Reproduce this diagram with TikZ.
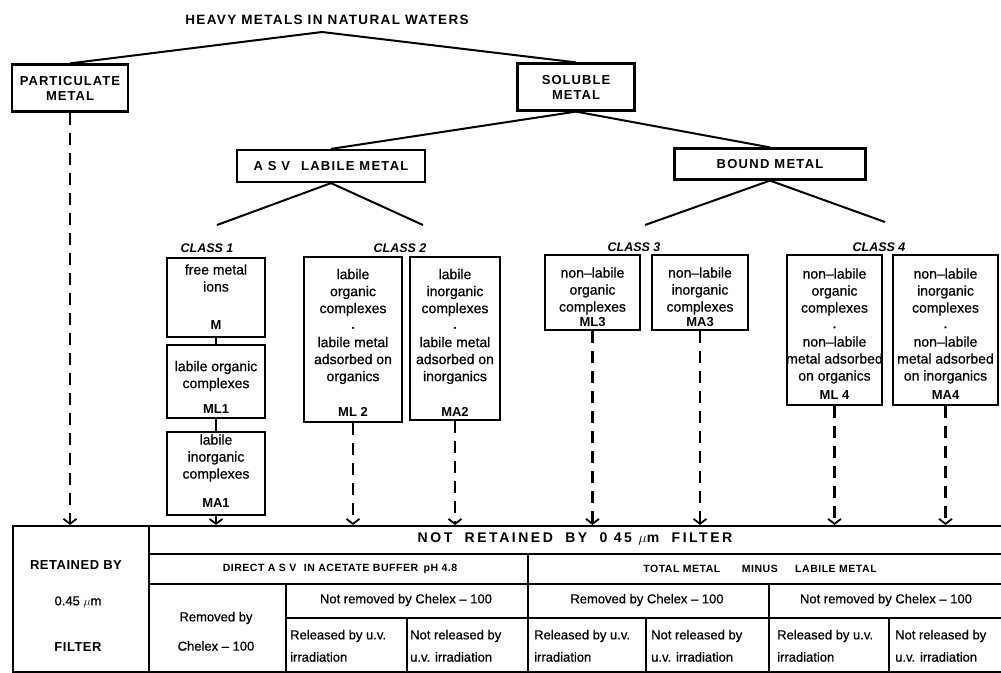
\documentclass[tikz,border=0pt]{standalone}
\usepackage{fontspec}
\setmainfont{Liberation Sans}
\usetikzlibrary{arrows.meta}
\newcommand{\capsfont}[2]{\fontsize{#1}{#1}\selectfont\bfseries\addfontfeatures{LetterSpace=#2}}
\newcommand{\medfont}[2]{\fontsize{#1}{#2}\selectfont\addfontfeatures{FakeBold=0.6}}
\newcommand{\bdot}{{\fontsize{7}{7}\selectfont •}}
\tikzset{
  box/.style={draw, line width=2.2pt, inner sep=0pt},
  cell/.style={draw, line width=2pt, inner sep=0pt, anchor=north west},
  lbl/.style={inner sep=0pt, align=center, font=\medfont{14}{17}},
  code/.style={inner sep=0pt, font=\fontsize{13}{13}\selectfont\bfseries},
  cls/.style={inner sep=0pt, font=\fontsize{12.5}{12.5}\selectfont\bfseries\itshape},
  ttl/.style={inner sep=0pt, align=center, font=\capsfont{13}{8}},
  tl/.style={inner sep=0pt, font=\medfont{13}{13}},
  tw/.style={inner sep=0pt, anchor=west, font=\medfont{13}{13}},
  sc/.style={inner sep=0pt, font=\capsfont{10.5}{5}},
  link/.style={line width=2pt},
  darr/.style={line width=2.2pt, dash pattern=on 12pt off 8pt, -{Straight Barb[length=5pt,width=13pt,line width=1.8pt]}},
}
\begin{document}
\begin{tikzpicture}[x=1pt,y=-1pt]
\useasboundingbox (0,0) rectangle (1001,672);
% title
\node[ttl, font=\capsfont{13.5}{10}] (title) at (327,20) {HEAVY METALS IN NATURAL WATERS};
\coordinate (apex) at (322,32);
% level 1
\node[box, minimum width=116, minimum height=47] (part) at (70,88) {};
\node[ttl] (partt) at (70,88) {PARTICULATE\\[2pt]METAL};
\node[box, minimum width=117, minimum height=47] (sol) at (576,87) {};
\node[ttl] (solt) at (576,87) {SOLUBLE\\[2pt]METAL};
\draw[link] (apex) -- (part.north);
\draw[link] (apex) -- (sol.north);
% level 2
\node[box, minimum width=188, minimum height=32] (asv) at (331,166) {};
\node[ttl, font=\capsfont{13}{10}] (asvt) at (331,166) {A S V\hspace{6pt} LABILE METAL};
\node[box, minimum width=191, minimum height=31] (bnd) at (770,164) {};
\node[ttl, font=\capsfont{13}{10}] (bndt) at (770,164) {BOUND METAL};
\draw[link] (sol.south) -- (asv.north);
\draw[link] (sol.south) -- (bnd.north);
\coordinate (c1) at (217,225);
\coordinate (c2) at (423,225);
\coordinate (c3) at (645,225);
\coordinate (c4) at (885,222);
\draw[link] (asv.south) -- (c1);
\draw[link] (asv.south) -- (c2);
\draw[link] (bnd.south) -- (c3);
\draw[link] (bnd.south) -- (c4);
% class labels
\node[cls] (cl1) at (207,248) {CLASS 1};
\node[cls] (cl2) at (400,248) {CLASS 2};
\node[cls] (cl3) at (634,247) {CLASS 3};
\node[cls] (cl4) at (879,247) {CLASS 4};
% class 1 boxes
\node[box, minimum width=98, minimum height=79] (m) at (216,297.5) {};
\node[lbl] (mt) at (216,278) {free metal\\ions};
\node[code] (mc) at (216,325) {M};
\node[box, minimum width=98, minimum height=73] (ml1) at (216,381.5) {};
\node[lbl] (ml1t) at (216,376) {labile organic\\complexes};
\node[code] (ml1c) at (216,409) {ML1};
\node[box, minimum width=98, minimum height=83] (ma1) at (216,473.5) {};
\node[lbl] (ma1t) at (216,458) {labile\\inorganic\\complexes};
\node[code] (ma1c) at (216,503) {MA1};
\draw[link] (m.south) -- (ml1.north);
\draw[link] (ml1.south) -- (ma1.north);
% class 2 boxes
\node[box, minimum width=98, minimum height=165] (ml2) at (353,339.5) {};
\node[lbl] (ml2t) at (353,326.5) {labile\\organic\\complexes\\\bdot\\labile metal\\adsorbed on\\organics};
\node[code] (ml2c) at (353,412) {ML 2};
\node[box, minimum width=90, minimum height=163] (ma2) at (455,338.5) {};
\node[lbl] (ma2t) at (455,326.5) {labile\\inorganic\\complexes\\\bdot\\labile metal\\adsorbed on\\inorganics};
\node[code] (ma2c) at (455,412) {MA2};
% class 3 boxes
\node[box, minimum width=95, minimum height=75] (ml3) at (592.5,292.5) {};
\node[lbl] (ml3t) at (592.5,291) {non--labile\\organic\\complexes};
\node[code] (ml3c) at (592.5,322) {ML3};
\node[box, minimum width=96, minimum height=75] (ma3) at (700,292.5) {};
\node[lbl] (ma3t) at (700,291) {non--labile\\inorganic\\complexes};
\node[code] (ma3c) at (700,322) {MA3};
% class 4 boxes
\node[box, minimum width=95, minimum height=150] (ml4) at (834.5,330) {};
\node[lbl] (ml4t) at (834.5,326) {non--labile\\organic\\complexes\\\bdot\\non--labile\\metal adsorbed\\on organics};
\node[code] (ml4c) at (834.5,395) {ML 4};
\node[box, minimum width=105, minimum height=150] (ma4) at (945.5,330) {};
\node[lbl] (ma4t) at (945.5,326) {non--labile\\inorganic\\complexes\\\bdot\\non--labile\\metal adsorbed\\on inorganics};
\node[code] (ma4c) at (945.5,395) {MA4};
% table cells
\node[cell, minimum width=136, minimum height=146] (ret) at (12,525) {};
\node[cell, minimum width=860, minimum height=28] (nrh) at (148,525) {};
\node[cell, minimum width=379, minimum height=30] (dir) at (148,553) {};
\node[cell, minimum width=481, minimum height=30] (tot) at (527,553) {};
\node[cell, minimum width=137, minimum height=88] (rem1) at (148,583) {};
\node[cell, minimum width=242, minimum height=34] (nrem1) at (285,583) {};
\node[cell, minimum width=121, minimum height=54] (rel1) at (285,617) {};
\node[cell, minimum width=121, minimum height=54] (nrel1) at (406,617) {};
\node[cell, minimum width=241, minimum height=34] (rem3) at (527,583) {};
\node[cell, minimum width=118, minimum height=54] (rel3) at (527,617) {};
\node[cell, minimum width=123, minimum height=54] (nrel3) at (645,617) {};
\node[cell, minimum width=240, minimum height=34] (nrem4) at (768,583) {};
\node[cell, minimum width=120, minimum height=54] (rel4) at (768,617) {};
\node[cell, minimum width=120, minimum height=54] (nrel4) at (888,617) {};
% table texts
\node[inner sep=0pt, font=\capsfont{13}{4}] (rt1) at (76,565) {RETAINED BY};
\node[tl] (rt2) at (78,602) {0.45 $\mu$m};
\node[inner sep=0pt, font=\capsfont{13}{4}] (rt3) at (78,647) {FILTER};
\node[ttl, font=\capsfont{14}{18}] (nrt) at (575,539) {NOT\hspace{6pt} RETAINED\hspace{6pt} BY\hspace{6pt} 0 45 $\mu$m\hspace{6pt} FILTER};
\node[sc] (dirt) at (340,569) {DIRECT A S V\hspace{4pt} IN ACETATE BUFFER\hspace{2pt} pH 4.8};
\node[sc] (tott) at (760,569) {TOTAL METAL\hspace{18pt} MINUS\hspace{14pt} LABILE METAL};
\node[tl] (rem1a) at (216,618) {Removed by};
\node[tl] (rem1b) at (216,646) {Chelex -- 100};
\node[tl] (nrem1t) at (406,600) {Not removed by Chelex -- 100};
\node[tw] (rel1a) at (290,636) {Released by u.v.};
\node[tw] (rel1b) at (290,657) {irradiation};
\node[tw] (nrel1a) at (410,636) {Not released by};
\node[tw] (nrel1b) at (410,657) {u.v. irradiation};
\node[tl] (rem3t) at (647,600) {Removed by Chelex -- 100};
\node[tw] (rel3a) at (534,636) {Released by u.v.};
\node[tw] (rel3b) at (534,657) {irradiation};
\node[tw] (nrel3a) at (651,636) {Not released by};
\node[tw] (nrel3b) at (651,657) {u.v. irradiation};
\node[tl] (nrem4t) at (886,600) {Not removed by Chelex -- 100};
\node[tw] (rel4a) at (777,636) {Released by u.v.};
\node[tw] (rel4b) at (777,657) {irradiation};
\node[tw] (nrel4a) at (895,636) {Not released by};
\node[tw] (nrel4b) at (895,657) {u.v. irradiation};
% dashed arrows
\draw[darr] (part.south) -- (part.south |- nrh.north);
\draw[darr] (ma1.south) -- (ma1.south |- nrh.north);
\draw[darr] (ml2.south) -- (ml2.south |- nrh.north);
\draw[darr] (ma2.south) -- (ma2.south |- nrh.north);
\draw[darr] (ml3.south) -- (ml3.south |- nrh.north);
\draw[darr] (ma3.south) -- (ma3.south |- nrh.north);
\draw[darr] (ml4.south) -- (ml4.south |- nrh.north);
\draw[darr] (ma4.south) -- (ma4.south |- nrh.north);
\end{tikzpicture}
\end{document}
